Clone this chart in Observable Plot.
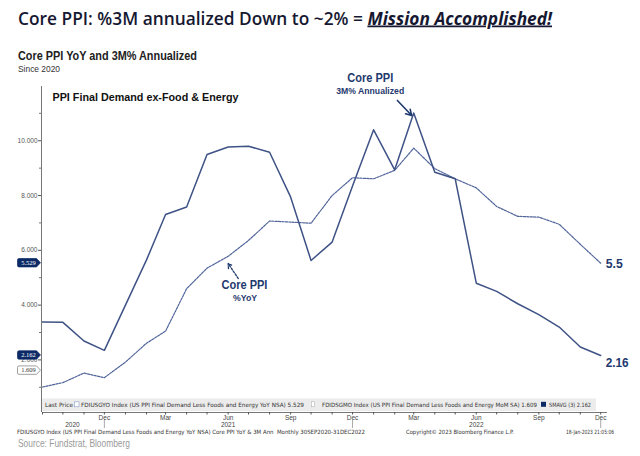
<!DOCTYPE html>
<html><head><meta charset="utf-8">
<script src="https://cdn.jsdelivr.net/npm/d3@7"></script>
<script src="https://cdn.jsdelivr.net/npm/@observablehq/plot@0.6"></script>
<style>
body{margin:0;background:#fff;}
#wrap{position:relative;width:640px;height:456px;overflow:hidden;}
</style></head>
<body><div id="wrap"></div>
<script>
// ---------- data ----------
const months = ["2020-09","2020-10","2020-11","2020-12","2021-01","2021-02","2021-03","2021-04","2021-05","2021-06","2021-07","2021-08","2021-09","2021-10","2021-11","2021-12","2022-01","2022-02","2022-03","2022-04","2022-05","2022-06","2022-07","2022-08","2022-09","2022-10","2022-11","2022-12"];
const core3mAnnualized = [3.38,3.37,2.69,2.35,4.00,5.65,7.31,7.58,9.50,9.77,9.80,9.58,7.94,5.63,6.30,8.35,10.40,8.94,11.01,8.85,8.61,4.80,4.50,4.05,3.65,3.20,2.47,2.16];
const coreYoY = [1.01,1.17,1.52,1.35,1.92,2.61,3.05,4.60,5.35,5.78,6.36,7.07,7.03,6.99,8.00,8.65,8.61,8.92,9.73,8.98,8.61,8.28,7.60,7.24,7.21,6.95,6.22,5.53];
const yTicks = [2,4,6,8,10];
const yMinorTicks = [1,3,5,7,9,11];
const quarterTicks = ["2020-12","2021-03","2021-06","2021-09","2021-12","2022-03","2022-06","2022-09","2022-12"];
const yearBreaks = ["2020-12","2021-12","2022-12"];
const yearLabels = ["2020-10-15","2021-06-01","2022-06-01"];
const endLabels = [{date:"2022-12", value:5.5, label:"5.5"},{date:"2022-12", value:2.16, label:"2.16"}];
const lastPrices = [{value:5.529, label:"5.529", kind:"filled"},{value:2.162, label:"2.162", kind:"filled"},{value:1.609, label:"1.609", kind:"outline"}];
const annoTitles = [{date:"2021-12-27", value:12.27, text:"Core PPI"},{date:"2021-06-25", value:4.72, text:"Core PPI"}];
const annoSubs = [{date:"2021-12-27", value:11.80, text:"3M% Annualized"},{date:"2021-06-26", value:4.24, text:"%YoY"}];
const arrow3m = [{from:"2022-02-05", fromV:11.47, to:"2022-02-26", toV:10.92}];
const arrowYoY = [{from:"2021-06-16", fromV:4.97, to:"2021-06-01", toV:5.52}];

const P = s => new Date(s.length === 7 ? s + "-01" : s);
const data = months.map((m,i) => ({date:P(m), ann:core3mAnnualized[i], yoy:coreYoY[i]}));

const navy = "#1f3a6e";
const plot = Plot.plot({
  width:640, height:456,
  marginLeft:42, marginRight:33, marginTop:86, marginBottom:44,
  style:{background:"transparent", fontFamily:"Liberation Sans, Arial, sans-serif", overflow:"visible"},
  x:{type:"utc", domain:[P("2020-09-01"), P("2022-12-11")], label:null},
  y:{domain:[0.08, 11.98], label:null},
  marks:[
    Plot.ruleY([0.08], {stroke:"#777", strokeWidth:1}),
    Plot.ruleX([P("2020-09-01")], {stroke:"#777", strokeWidth:1, dx:-1}),
    Plot.axisY(yTicks, {tickSize:3, tickPadding:1, tickFormat:d3.format(".3f"), fontSize:6.5, color:"#555", dx:-1}),
    Plot.axisY(yMinorTicks, {tickSize:2, tickFormat:() => "", color:"#777", dx:-1}),
    Plot.axisX(months.map(P), {tickSize:2.5, tickFormat:() => "", color:"#555"}),
    Plot.axisX(quarterTicks.map(P), {tickSize:0, tickPadding:3, tickFormat:d3.utcFormat("%b"), fontSize:6.5, color:"#444"}),
    Plot.axisX(yearLabels.map(P), {tickSize:0, tickPadding:10, tickFormat:d3.utcFormat("%Y"), fontSize:6.5, color:"#444"}),
    Plot.axisX(yearBreaks.map(P), {tickSize:8, dy:8, tickFormat:() => "", color:"#aaa"}),
    Plot.text(["PPI Final Demand ex-Food & Energy"], {frameAnchor:"top-left", dx:10, dy:6, lineAnchor:"top", fontWeight:"bold", fontSize:11.5, fill:"#111"}),
    Plot.line(data, {x:"date", y:"yoy", stroke:"#51659a", strokeWidth:1.2, strokeDasharray:"2.2,1.2"}),
    Plot.line(data, {x:"date", y:"ann", stroke:"#3e5285", strokeWidth:1.5}),
    Plot.text(endLabels.slice(0,1), {x:d => P(d.date), y:"value", text:"label", textAnchor:"start", dx:5, fontWeight:"bold", fontSize:12.5, fill:navy}),
    Plot.text(endLabels.slice(1), {x:d => P(d.date), y:"value", text:"label", textAnchor:"start", dx:5, dy:7, fontWeight:"bold", fontSize:12.5, fill:navy}),
    Plot.text(annoTitles, {x:d => P(d.date), y:"value", text:"text", fontWeight:"bold", fontSize:12, fill:navy}),
    Plot.text(annoSubs, {x:d => P(d.date), y:"value", text:"text", fontWeight:"bold", fontSize:8.5, fill:navy}),
    Plot.arrow(arrow3m, {x1:d => P(d.from), y1:"fromV", x2:d => P(d.to), y2:"toV", stroke:navy, strokeWidth:1.6, headLength:6}),
    Plot.arrow(arrowYoY, {x1:d => P(d.from), y1:"fromV", x2:d => P(d.to), y2:"toV", stroke:navy, strokeWidth:1.3, headLength:6, strokeDasharray:"2,1.5"})
  ]
});
document.getElementById("wrap").appendChild(plot);

// ---------- fit plot text widths ----------
const svg = d3.select(plot);
const fitWidths = {"PPI Final Demand ex-Food & Energy":186, "Core PPI":46, "3M% Annualized":68, "%YoY":24, "5.5":17, "2.16":23};
svg.selectAll("text").each(function(){
  const t = this.textContent;
  if (fitWidths[t] && this.childElementCount === 0) d3.select(this).attr("textLength", fitWidths[t]).attr("lengthAdjust","spacingAndGlyphs");
});

// ---------- last-price tags (placed with the plot's y scale) ----------
const yS = plot.scale("y");
const tags = svg.append("g").attr("text-anchor","middle");
lastPrices.forEach(d => {
  const yy = yS.apply(d.value);
  tags.append("path")
    .attr("d", `M19,${yy-4.2}H36.5L40.5,${yy}L36.5,${yy+4.2}H19Q17.5,${yy+4.2} 17.5,${yy+2.7}V${yy-2.7}Q17.5,${yy-4.2} 19,${yy-4.2}Z`)
    .attr("fill", d.kind === "filled" ? "#0c2a66" : "#fff")
    .attr("stroke", d.kind === "filled" ? "#0c2a66" : "#777").attr("stroke-width", 0.7);
  tags.append("text").attr("x", 28.5).attr("y", yy + 2.2)
    .attr("font-family","Liberation Serif, serif").attr("font-size", 6.5)
    .attr("fill", d.kind === "filled" ? "#fff" : "#333").text(d.label);
});

// ---------- page chrome ----------
function txt(g, o){
  const t = g.append("text").attr("x", o.x).attr("y", o.y).attr("text-anchor","start")
    .attr("font-family", o.family || "Liberation Sans, Arial, sans-serif")
    .attr("font-size", o.size).attr("font-weight", o.weight || "normal")
    .attr("fill", o.fill || "#333").text(o.text);
  if (o.w) t.attr("textLength", o.w).attr("lengthAdjust","spacingAndGlyphs");
  return t;
}
const ch = svg.append("g").attr("text-anchor","start");
// title
const title = ch.append("text").attr("x",18).attr("y",24.5).attr("text-anchor","start")
  .attr("font-family","Open Sans, sans-serif").attr("font-size",17.5).attr("font-weight",600)
  .attr("fill","#161831").attr("textLength",534).attr("lengthAdjust","spacingAndGlyphs");
title.append("tspan").text("Core PPI: %3M annualized Down to ~2% = ");
title.append("tspan").attr("font-style","italic").attr("font-weight",700).style("text-decoration","underline").text("Mission Accomplished!");
txt(ch, {x:18, y:59.5, text:"Core PPI YoY and 3M% Annualized", size:12, weight:"bold", fill:"#222", w:179});
txt(ch, {x:18, y:72, text:"Since 2020", size:9.5, fill:"#333", w:42});

// legend band
ch.append("rect").attr("x",42).attr("y",398.5).attr("width",554).attr("height",12.5).attr("fill","#ececec");
const lf = "DejaVu Sans, sans-serif";
txt(ch, {x:45, y:407.2, text:"Last Price", size:5.8, fill:"#333", family:lf, w:28});
ch.append("rect").attr("x",74.5).attr("y",401.8).attr("width",4.5).attr("height",5).attr("fill","#fff").attr("stroke","#8aa0c8").attr("stroke-width",0.6);
txt(ch, {x:81, y:407.2, text:"FDIUSGYO Index (US PPI Final Demand Less Foods and Energy YoY NSA) 5.529", size:5.8, fill:"#333", family:lf, w:223});
ch.append("rect").attr("x",311.5).attr("y",401.8).attr("width",3).attr("height",5).attr("fill","#fff").attr("stroke","#aaa").attr("stroke-width",0.5);
txt(ch, {x:322, y:407.2, text:"FDIDSGMO Index (US PPI Final Demand Less Foods and Energy MoM SA) 1.609", size:5.8, fill:"#333", family:lf, w:215});
ch.append("rect").attr("x",541).attr("y",401.8).attr("width",5).attr("height",5).attr("fill","#0c2a66");
txt(ch, {x:549, y:407.2, text:"SMAVG (3) 2.162", size:5.8, fill:"#333", family:lf, w:42});

// footer
txt(ch, {x:17, y:433.5, text:"FDIUSGYO Index (US PPI Final Demand Less Foods and Energy YoY NSA) Core PPI YoY & 3M Ann  Monthly 30SEP2020-31DEC2022", size:5.8, fill:"#333", family:lf, w:348});
txt(ch, {x:406, y:433.5, text:"Copyright\u00A9 2023 Bloomberg Finance L.P.", size:5.8, fill:"#333", family:lf, w:108});
txt(ch, {x:566, y:433.5, text:"18-Jan-2023 21:05:06", size:5.8, fill:"#333", family:lf, w:48});
txt(ch, {x:18, y:447, text:"Source: Fundstrat, Bloomberg", size:10.5, fill:"#9a9a9a", w:112});
</script>
</body></html>
